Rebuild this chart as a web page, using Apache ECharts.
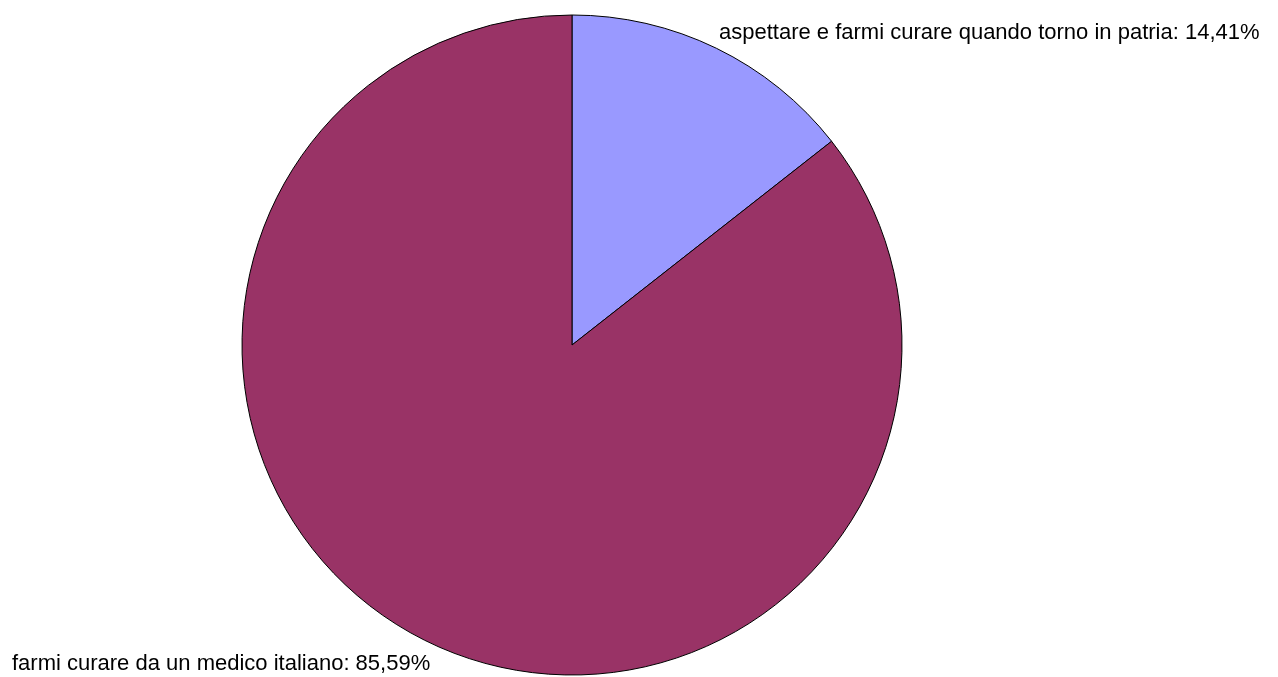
<!DOCTYPE html>
<html><head><meta charset="utf-8">
<script src="https://cdn.jsdelivr.net/npm/echarts@6/dist/echarts.min.js"></script>
<style>html,body{margin:0;padding:0;background:#fff}#c{width:1278px;height:677px}</style>
</head><body><div id="c"></div>
<script>
const categories = ["aspettare e farmi curare quando torno in patria", "farmi curare da un medico italiano"];
const values = [14.41, 85.59];
const colors = ["#9999FF", "#993366"];
const labelPos = [{x: 719, y: 33, align: 'left'}, {x: 12, y: 664, align: 'left'}];

const chart = echarts.init(document.getElementById('c'), null, {renderer: 'canvas'});
chart.setOption({
  animation: false,
  series: [{
    type: 'pie',
    center: [572, 345],
    radius: 330,
    startAngle: 90,
    clockwise: true,
    data: categories.map((n, i) => ({name: n, value: values[i], itemStyle: {color: colors[i]}})),
    itemStyle: {borderColor: '#000', borderWidth: 1},
    emphasis: {disabled: true},
    label: {
      show: true,
      position: 'inside',
      overflow: 'none',
      fontFamily: 'Liberation Sans, Arial, sans-serif',
      fontSize: 22,
      color: '#000',
      formatter: p => p.name + ': ' + p.value.toFixed(2).replace('.', ',') + '%'
    },
    labelLine: {show: false},
    labelLayout: p => ({x: labelPos[p.dataIndex].x, y: labelPos[p.dataIndex].y, align: labelPos[p.dataIndex].align, verticalAlign: 'middle'})
  }]
});
</script></body></html>
